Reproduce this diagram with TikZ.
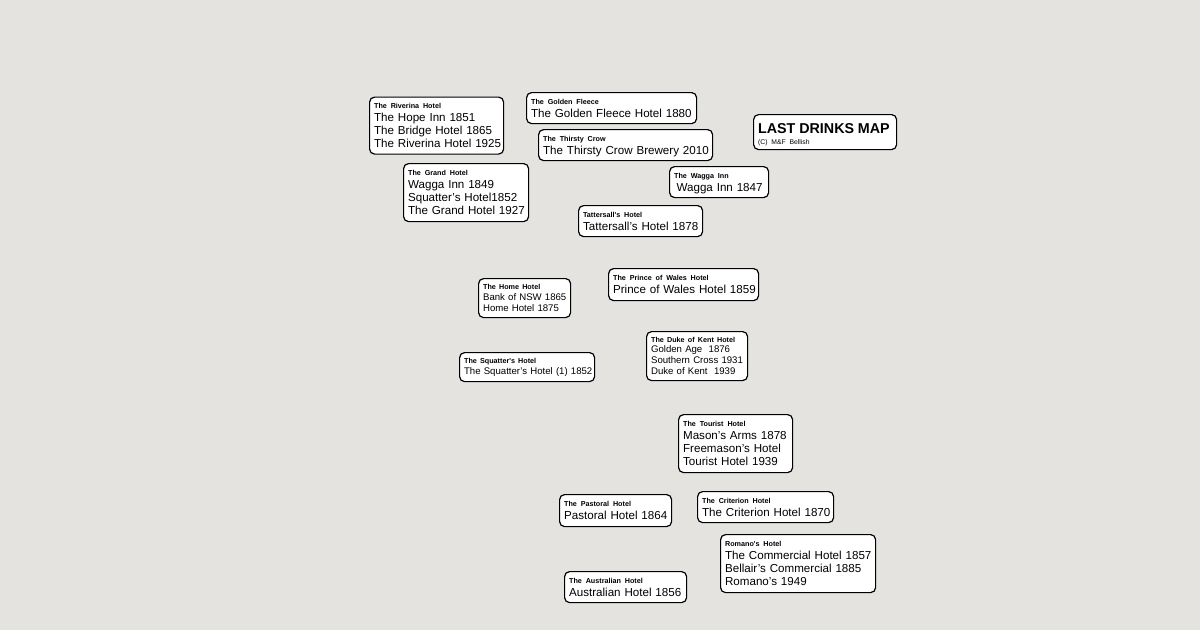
\documentclass[tikz,border=0pt]{standalone}
\usepackage{fontspec}
\setmainfont{Liberation Sans}
\newfontfamily\namefont[WordSpace=0.45]{Liberation Sans}
\definecolor{mapbg}{RGB}{228,227,223}

\newcommand{\hotelname}[1]{{\namefont\fontsize{7.2}{8}\selectfont\bfseries #1}}
\newcommand{\pubcard}[2]{\begin{tabular}{@{}l@{}}\hotelname{#1}\\#2\end{tabular}}

\begin{document}
\begin{tikzpicture}[x=1pt, y=-1pt,
  pub/.style={draw=black, line width=1.2pt, fill=white, rounded corners=5pt,
    anchor=north west, inner xsep=4.5pt, inner ysep=0pt, align=left,
    font=\fontsize{11.6}{13}\selectfont},
  smallpub/.style={pub, font=\fontsize{9.6}{10.8}\selectfont}]

  % Background
  \fill[mapbg] (0,0) rectangle (1200,630);
  \useasboundingbox (0,0) rectangle (1200,630);

  % Map title
  \node[pub, text width=134pt, minimum height=35pt] (mapname) at (753,114)
    {\begin{tabular}{@{}l@{}}\rule{0pt}{17.5pt}{\fontsize{14.3}{16}\selectfont\bfseries LAST DRINKS MAP}\\[-2.5pt]
     {\namefont\fontsize{6.8}{7}\selectfont (C) M\&F Bellish}\end{tabular}};

  % Top group
  \node[pub, text width=125pt, minimum height=57pt] (riverina) at (369,96.5)
    {\pubcard{The Riverina Hotel}{The Hope Inn 1851\\The Bridge Hotel 1865\\The Riverina Hotel 1925}};
  \node[pub, text width=161pt, minimum height=31pt] (fleece) at (526,92)
    {\pubcard{The Golden Fleece}{The Golden Fleece Hotel 1880}};
  \node[pub, text width=165pt, minimum height=31pt] (crow) at (538,129)
    {\pubcard{The Thirsty Crow}{The Thirsty Crow Brewery 2010}};
  \node[pub, text width=116pt, minimum height=58pt] (grand) at (403,163)
    {\pubcard{The Grand Hotel}{Wagga Inn 1849\\Squatter's Hotel1852\\The Grand Hotel 1927}};
  \node[pub, text width=90pt, minimum height=31pt] (wagga) at (669,166)
    {\pubcard{The Wagga Inn}{\hspace*{2.5pt}Wagga Inn 1847}};
  \node[pub, text width=115pt, minimum height=31pt] (tattersall) at (578,205)
    {\pubcard{Tattersall's Hotel}{Tattersall's Hotel 1878}};

  % Middle group
  \node[smallpub, text width=83pt, minimum height=39pt] (home) at (478,278)
    {\pubcard{The Home Hotel}{Bank of NSW 1865\\Home Hotel 1875}};
  \node[pub, text width=141pt, minimum height=32pt] (prince) at (608,268)
    {\pubcard{The Prince of Wales Hotel}{Prince of Wales Hotel 1859}};
  \node[smallpub, text width=92pt, minimum height=49pt] (duke) at (646,331)
    {\pubcard{The Duke of Kent Hotel}{Golden Age~\ 1876\\Southern Cross 1931\\Duke of Kent~\ 1939}};
  \node[smallpub, text width=126pt, minimum height=29pt] (squatters) at (459,352)
    {\pubcard{The Squatter's Hotel}{The Squatter's Hotel (1) 1852}};

  % Bottom group
  \node[pub, text width=105pt, minimum height=58pt] (tourist) at (678,414)
    {\pubcard{The Tourist Hotel}{Mason's Arms 1878\\Freemason's Hotel\\Tourist Hotel 1939}};
  \node[pub, text width=103pt, minimum height=32pt] (pastoral) at (559,494)
    {\pubcard{The Pastoral Hotel}{Pastoral Hotel 1864}};
  \node[pub, text width=127pt, minimum height=31pt] (criterion) at (697,491)
    {\pubcard{The Criterion Hotel}{The Criterion Hotel 1870}};
  \node[pub, text width=146pt, minimum height=58pt] (romano) at (720,534)
    {\pubcard{Romano's Hotel}{The Commercial Hotel 1857\\Bellair's Commercial 1885\\Romano's 1949}};
  \node[pub, text width=113pt, minimum height=31pt] (australian) at (564,571)
    {\pubcard{The Australian Hotel}{Australian Hotel 1856}};
\end{tikzpicture}
\end{document}
